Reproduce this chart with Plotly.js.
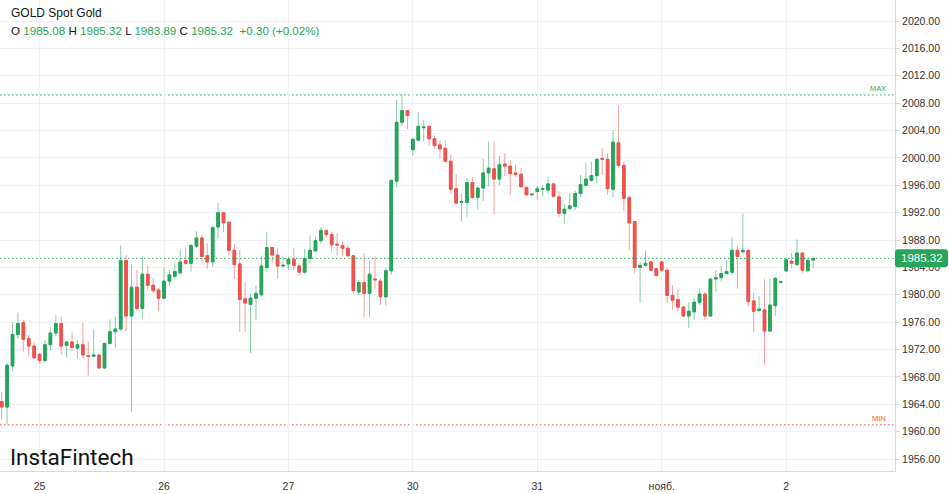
<!DOCTYPE html>
<html><head><meta charset="utf-8">
<script src="https://cdn.plot.ly/plotly-3.0.1.min.js"></script>
<style>html,body{margin:0;padding:0;background:#fff;overflow:hidden}#chart{width:949px;height:494px}</style>
</head><body><div id="chart"></div>
<script>
// Hourly candles, GOLD Spot Gold
const openP = [1964.4,1963.6,1969.6,1974.2,1975.9,1973.6,1972.5,1971.3,1970.4,1972.7,1974.4,1975.8,1972.6,1973.1,1972.2,1972.7,1971.1,1971.0,1971.2,1969.3,
1972.9,1974.6,1975.0,1985.0,1976.9,1981.1,1978.0,1983.0,1981.4,1980.7,1979.5,1982.0,1982.7,1983.2,1985.0,1984.6,1987.1,1988.3,1985.7,1984.8,
1989.9,1992.0,1990.6,1986.5,1984.5,1979.4,1978.6,1979.5,1980.0,1984.0,1986.9,1985.8,1984.2,1984.5,1985.2,1984.2,1983.3,1985.3,1986.4,1987.9,
1989.4,1988.8,1987.4,1987.2,1986.8,1985.7,1980.4,1981.8,1980.2,1982.3,1982.0,1979.7,1983.5,1996.6,2005.2,2006.9,2001.2,2002.6,2004.4,2004.6,
2002.8,2001.9,2001.4,1999.5,1995.5,1993.5,1993.5,1996.4,1994.2,1995.6,1997.8,1998.4,1996.9,1999.1,1998.8,1997.8,1997.6,1995.7,1994.6,1995.1,
1995.4,1995.3,1996.2,1994.3,1991.9,1992.6,1992.9,1994.8,1996.0,1996.7,1997.4,1999.9,1999.8,1995.4,2002.2,1998.9,1994.2,1990.7,1984.0,1984.3,
1984.8,1983.8,1984.8,1983.6,1979.9,1979.3,1978.2,1976.9,1977.5,1978.9,1980.1,1976.9,1982.3,1982.5,1983.1,1983.3,1986.5,1986.3,1986.5,1979.1,
1977.7,1977.8,1974.7,1978.4,1981.8,1983.5,1984.9,1984.4,1986.1,1983.5,1985.08];
const highP = [1965.8,1970.0,1976.0,1977.4,1976.3,1974.1,1973.1,1971.5,1973.4,1975.3,1977.0,1976.8,1973.2,1974.5,1973.4,1975.9,1973.2,1974.9,1971.3,1972.9,
1976.4,1976.8,1987.2,1985.8,1984.4,1983.6,1985.6,1984.2,1982.5,1981.0,1984.0,1983.6,1984.7,1986.5,1986.8,1987.4,1989.3,1988.7,1987.5,1990.0,
1993.4,1992.1,1990.8,1987.4,1986.6,1981.8,1980.2,1981.3,1985.7,1989.2,1987.0,1986.8,1985.7,1985.6,1986.8,1984.6,1986.7,1988.7,1988.5,1989.9,
1989.5,1989.2,1989.0,1987.8,1987.3,1985.8,1982.2,1986.1,1984.9,1985.6,1982.4,1983.9,1996.9,2008.5,2009.2,2007.0,2003.0,2006.7,2005.5,2004.8,
2003.3,2002.6,2002.6,2000.4,1997.6,1994.8,1997.0,1997.2,1995.8,1999.9,2002.4,2002.4,2000.3,2000.7,1999.7,1999.0,1998.5,1995.8,1994.8,1995.9,
1996.0,1997.2,1996.3,1995.1,1993.3,1994.9,1995.2,1997.5,1999.3,1999.4,1999.9,2001.4,2000.7,2004.1,2007.7,1999.4,1994.6,1990.8,1984.8,1986.5,
1985.0,1983.9,1985.0,1983.9,1981.4,1980.8,1978.4,1978.9,1979.5,1980.9,1980.4,1982.4,1983.6,1984.2,1985.0,1988.4,1987.1,1991.9,1986.6,1980.3,
1979.8,1982.3,1982.3,1982.6,1982.0,1985.5,1986.1,1988.1,1986.2,1985.5,1985.32];
const lowP = [1961.7,1961.0,1968.8,1973.6,1971.7,1970.9,1970.6,1969.9,1970.2,1971.8,1973.9,1971.2,1970.8,1971.7,1970.7,1970.7,1968.2,1970.9,1969.2,1969.2,
1972.7,1972.2,1974.7,1974.7,1962.9,1977.7,1976.4,1980.6,1980.3,1977.6,1979.4,1981.3,1982.3,1983.0,1984.4,1983.4,1986.8,1984.6,1983.8,1984.1,
1988.2,1989.2,1985.8,1982.3,1974.6,1974.5,1971.5,1976.3,1979.7,1983.4,1984.6,1982.3,1983.9,1983.6,1983.6,1982.8,1983.0,1984.6,1986.3,1987.5,
1988.4,1986.3,1985.7,1985.6,1985.5,1980.2,1980.0,1976.8,1976.7,1980.8,1978.5,1978.4,1982.9,1995.7,2004.7,2004.2,2000.3,2002.4,2002.4,2001.8,
2001.3,1999.9,1999.4,1994.8,1993.1,1990.7,1991.4,1994.0,1992.5,1993.7,1995.8,1991.7,1996.0,1997.3,1994.6,1997.2,1995.6,1994.5,1994.5,1993.9,
1994.4,1994.8,1994.2,1991.3,1990.3,1992.4,1992.4,1994.3,1995.9,1996.5,1996.3,1997.5,1994.6,1994.3,1998.6,1992.2,1986.5,1983.1,1978.8,1984.1,
1983.4,1982.7,1983.4,1978.8,1977.8,1977.5,1976.8,1975.1,1976.3,1978.5,1976.3,1976.8,1980.4,1981.9,1982.9,1982.9,1980.9,1986.0,1978.3,1974.5,
1977.5,1969.7,1974.6,1976.9,1981.7,1983.3,1983.9,1984.3,1983.2,1983.4,1983.89];
const closeP = [1963.6,1969.7,1974.2,1975.8,1973.5,1972.5,1970.8,1970.4,1972.7,1974.4,1975.8,1972.5,1973.1,1972.3,1972.7,1971.2,1971.0,1971.2,1969.3,1972.9,
1974.6,1975.0,1985.0,1976.9,1981.1,1978.0,1983.0,1981.4,1980.6,1979.5,1982.0,1982.9,1983.4,1984.8,1984.6,1987.2,1988.3,1985.6,1984.8,1989.8,
1992.0,1990.5,1986.5,1984.4,1979.3,1978.8,1979.5,1980.2,1984.2,1986.9,1985.8,1984.2,1984.3,1985.2,1984.3,1983.3,1985.3,1986.5,1987.9,1989.4,
1988.8,1987.3,1987.3,1986.8,1985.7,1980.6,1981.8,1980.2,1983.0,1982.2,1979.7,1983.5,1996.7,2005.2,2006.9,2006.2,2002.7,2004.6,2004.5,2002.8,
2001.8,2001.3,1999.5,1995.4,1993.4,1993.6,1996.4,1994.2,1995.6,1997.8,1998.5,1996.9,1999.0,1998.8,1997.7,1997.6,1995.8,1994.6,1994.7,1995.5,
1995.5,1996.2,1994.4,1991.9,1992.5,1993.0,1994.8,1996.1,1996.9,1997.4,1999.8,1999.8,1995.5,2002.3,1998.9,1994.1,1990.5,1984.0,1984.3,1984.6,
1983.6,1982.8,1983.6,1979.9,1979.2,1978.2,1976.9,1977.6,1978.9,1980.1,1976.9,1982.3,1982.5,1983.1,1983.4,1986.5,1985.6,1986.5,1979.0,1977.6,
1977.9,1974.7,1978.5,1982.4,1981.9,1985.1,1984.6,1986.1,1983.6,1985.02,1985.32];

// Day labels (index of the first hourly candle of each day)
const dayTickIndex = [7, 30, 53, 76, 99, 122, 145];
const dayTickLabels = ['25', '26', '27', '30', '31', 'нояб.', '2'];
const symbolTitle = 'GOLD Spot Gold';
const logoText = 'InstaFintech';

const UP = '#26a65b', DOWN = '#ef5350';
const UPW = 'rgba(38,166,91,0.55)', DOWNW = 'rgba(239,83,80,0.55)';

const n = closeP.length;
const xs = closeP.map((_, i) => i);
const bodyHigh = openP.map((o, i) => Math.max(o, closeP[i]));
const bodyLow = openP.map((o, i) => Math.min(o, closeP[i]));

const wicks = {
  type: 'candlestick', x: xs, open: openP, high: highP, low: lowP, close: closeP,
  increasing: {line: {color: UPW, width: 1}, fillcolor: UP},
  decreasing: {line: {color: DOWNW, width: 1}, fillcolor: DOWN},
  whiskerwidth: 0, hoverinfo: 'skip', showlegend: false
};
const bodies = {
  type: 'candlestick', x: xs, open: openP, high: bodyHigh, low: bodyLow, close: closeP,
  increasing: {line: {color: UP, width: 1}, fillcolor: UP},
  decreasing: {line: {color: DOWN, width: 1}, fillcolor: DOWN},
  whiskerwidth: 0, hoverinfo: 'skip', showlegend: false
};

const lastO = openP[n-1], lastH = highP[n-1], lastL = lowP[n-1], lastC = closeP[n-1];
const chg = lastC - closeP[n-2];
const chgPct = chg / closeP[n-2] * 100;
const sgn = v => (v >= 0 ? '+' : '') + v.toFixed(2);
const maxH = Math.max(...highP), minL = Math.min(...lowP);

const PW = 895, PH = 471;
const g = s => `<span style="color:${UP}">${s}</span>`;
const ohlc = `O ${g(lastO.toFixed(2))} H ${g(lastH.toFixed(2))} L ${g(lastL.toFixed(2))} C ${g(lastC.toFixed(2))} &nbsp;${g(sgn(chg) + ' (' + sgn(chgPct) + '%)')}`;

const layout = {
  width: 949, height: 494,
  margin: {l: 0, r: 54, t: 0, b: 23, pad: 0},
  paper_bgcolor: '#ffffff', plot_bgcolor: '#ffffff',
  showlegend: false, boxgap: 0.3,
  font: {family: 'Liberation Sans, Arial, sans-serif', color: '#131722'},
  xaxis: {
    range: [-0.314, 165.12], tickmode: 'array', tickvals: dayTickIndex, ticktext: dayTickLabels,
    showgrid: true, gridcolor: '#eff1f5', gridwidth: 1, zeroline: false,
    showline: true, linecolor: '#d6d9e0', linewidth: 1,
    ticks: 'outside', ticklen: 5, tickcolor: 'rgba(0,0,0,0)',
    tickfont: {family: 'Liberation Sans, Arial, sans-serif', size: 10.5, color: '#333'},
    rangeslider: {visible: false}, fixedrange: true
  },
  yaxis: {
    side: 'right', range: [1954.25, 2023.07], tick0: 1956, dtick: 4, tickformat: '.2f',
    showgrid: true, gridcolor: '#eff1f5', gridwidth: 1, zeroline: false,
    showline: true, linecolor: '#d6d9e0', linewidth: 1,
    ticks: 'outside', ticklen: 4, tickcolor: '#d6d9e0',
    tickfont: {family: 'Liberation Sans, Arial, sans-serif', size: 10.5, color: '#333'},
    fixedrange: true
  },
  shapes: [
    {type: 'line', xref: 'paper', x0: 0, x1: 1, yref: 'y', y0: maxH, y1: maxH, line: {color: UP, width: 1, dash: '1.5px,2.5px'}, layer: 'below'},
    {type: 'line', xref: 'paper', x0: 0, x1: 1, yref: 'y', y0: minL, y1: minL, line: {color: DOWN, width: 1, dash: '1.5px,2.5px'}, layer: 'below'},
    {type: 'line', xref: 'paper', x0: 0, x1: 1, yref: 'y', y0: lastC, y1: lastC, line: {color: UP, width: 1, dash: '1.5px,2.5px'}, layer: 'above'},
    {type: 'path', xref: 'paper', xsizemode: 'pixel', xanchor: 1, yref: 'y', ysizemode: 'pixel', yanchor: lastC,
     path: 'M 3,-9 L 50,-9 Q 53,-9 53,-6 L 53,6 Q 53,9 50,9 L 3,9 Q 0,9 0,6 L 0,-6 Q 0,-9 3,-9 Z',
     fillcolor: UP, line: {width: 0}, layer: 'above'}
  ],
  annotations: [
    {xref: 'paper', yref: 'paper', x: 9/PW, y: 1 - 13/PH, xanchor: 'left', yanchor: 'middle', showarrow: false,
     text: symbolTitle, font: {size: 12, color: '#131722'}},
    {xref: 'paper', yref: 'paper', x: 9/PW, y: 1 - 31/PH, xanchor: 'left', yanchor: 'middle', showarrow: false,
     text: ohlc, font: {size: 11.6, color: '#131722'}},
    {xref: 'paper', yref: 'paper', x: 8/PW, y: 1 - 457/PH, xanchor: 'left', yanchor: 'middle', showarrow: false,
     text: logoText, font: {family: 'Roboto, sans-serif', size: 22.5, color: '#111111', weight: 400}},
    {xref: 'paper', yref: 'y', x: 888/PW, y: maxH, xanchor: 'right', yanchor: 'bottom', yshift: 0, showarrow: false,
     text: 'MAX', font: {size: 7.5, color: UP}},
    {xref: 'paper', yref: 'y', x: 888/PW, y: minL, xanchor: 'right', yanchor: 'bottom', yshift: 0, showarrow: false,
     text: 'MIN', font: {size: 7.5, color: DOWN}},
    {xref: 'paper', yref: 'y', x: 1, xshift: 26.5, y: lastC, xanchor: 'center', yanchor: 'middle', showarrow: false,
     text: lastC.toFixed(2), font: {size: 11.5, color: '#ffffff'}}
  ]
};

Plotly.newPlot('chart', [wicks, bodies], layout, {staticPlot: true, displayModeBar: false});
</script>
</body></html>
